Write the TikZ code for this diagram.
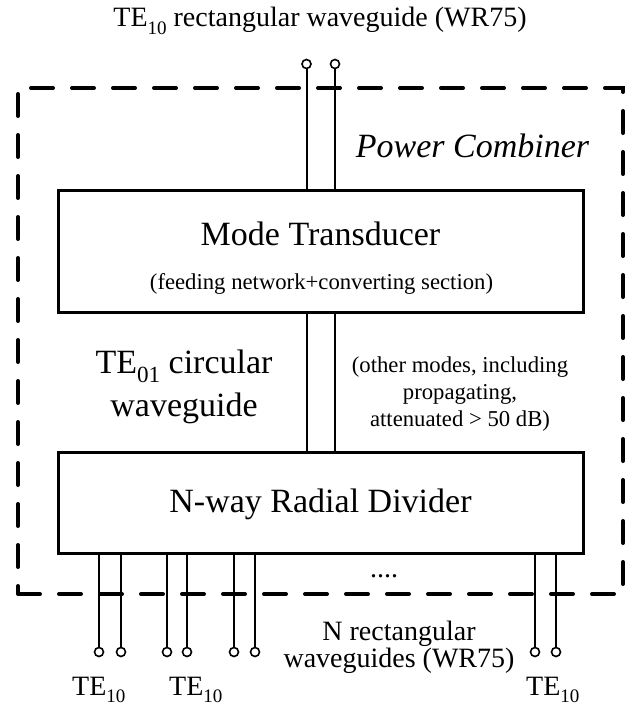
\documentclass[tikz,border=0pt]{standalone}
\usepackage{fontspec}
\setmainfont{Liberation Serif}
\newcommand\lowsub[1]{\raisebox{-0.27em}{\scalebox{0.68}{#1}}}
\begin{document}
\begin{tikzpicture}[x=1pt,y=-1pt,
  frame/.style={draw, line width=4pt, line cap=round, dash pattern=on 22pt off 19pt,
    minimum width=605pt, minimum height=506pt, inner sep=0pt},
  blockbox/.style={draw, line width=3pt, minimum width=525pt, inner sep=0pt},
  port/.style={circle, draw, line width=1.6pt, minimum size=9pt, inner sep=0pt},
  wg/.style={line width=2pt},
  big/.style={inner sep=0pt, anchor=base, font=\fontsize{34}{40}\selectfont},
  mid/.style={inner sep=0pt, anchor=base, font=\fontsize{28}{27}\selectfont},
  small/.style={inner sep=0pt, anchor=base, font=\fontsize{22.7}{27}\selectfont, align=center}
]
\useasboundingbox (0,0) rectangle (629,704);

% frame and blocks
\node[frame] (pc) at (320.5,341) {};
\node[blockbox, minimum height=122pt] (mt) at (320.5,251) {};
\node[blockbox, minimum height=101pt] (rd) at (320.5,502.5) {};

% texts
\node[mid] (title) at (320,27) {TE\lowsub{10} rectangular waveguide (WR75)};
\node[big, font=\fontsize{34}{40}\selectfont\itshape] (pclabel) at (472.5,157) {Power Combiner};
\node[big] (mtlabel) at (320.5,245) {Mode Transducer};
\node[small] (mtsub) at (321.5,289) {(feeding network+converting section)};
\node[big] (te01) at (184,373) {TE\lowsub{01} circular};
\node[big] (te01b) at (184,416) {waveguide};
\node[small] (other1) at (460,372) {(other modes, including};
\node[small] (other2) at (460,399) {propagating,};
\node[small] (other3) at (460,426) {attenuated > 50 dB)};
\node[big] (rdlabel) at (320.5,512) {N-way Radial Divider};
\node[mid] (dots) at (384,577) {....};
\node[mid] (nrect1) at (399,640) {N rectangular};
\node[mid] (nrect2) at (399,667) {waveguides (WR75)};
\node[mid, anchor=base west] (te1) at (72,695) {TE\lowsub{10}};
\node[mid, anchor=base west] (te2) at (169,695) {TE\lowsub{10}};
\node[mid, anchor=base west] (te3) at (526,695) {TE\lowsub{10}};

% top ports
\node[port] (t1) at (306.5,64) {};
\node[port] (t2) at (335,64) {};
\draw[wg] (t1.south) -- (t1 |- mt.north);
\draw[wg] (t2.south) -- (t2 |- mt.north);

% circular waveguide
\draw[wg] (t1 |- mt.south) -- (t1 |- rd.north);
\draw[wg] (t2 |- mt.south) -- (t2 |- rd.north);

% bottom ports
\foreach \n/\x in {b1/99,b2/121,b3/167,b4/187,b5/234,b6/255,b7/535,b8/556}{
  \node[port] (\n) at (\x,652) {};
  \draw[wg] (\n |- rd.south) -- (\n.north);
}
\end{tikzpicture}
\end{document}
